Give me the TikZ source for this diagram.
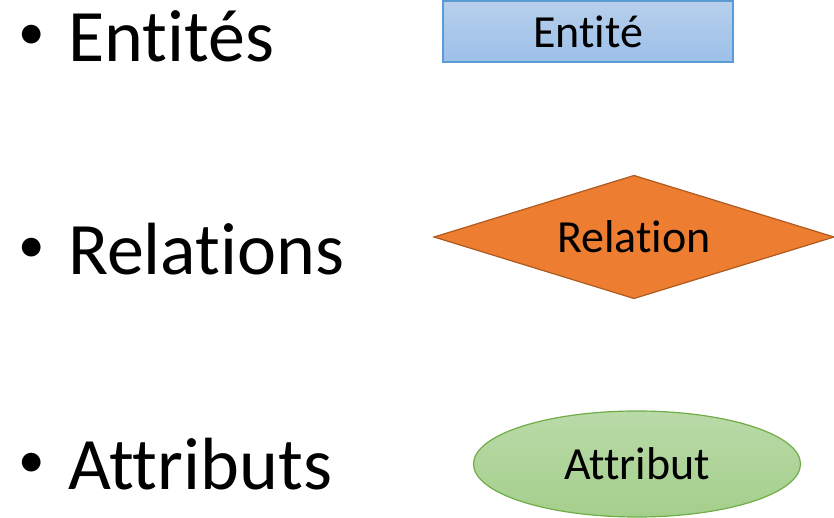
\documentclass[tikz,border=0pt]{standalone}
\usepackage{fontspec}
\setmainfont{Carlito}[Ligatures={NoCommon}]
\usetikzlibrary{shapes.geometric}

\definecolor{entitehaut}{HTML}{B7CFEC}
\definecolor{entitebas}{HTML}{9CC0E9}
\definecolor{entitebord}{HTML}{5B9BD5}
\definecolor{relationfond}{HTML}{ED7D31}
\definecolor{relationbord}{HTML}{AE5A21}
\definecolor{attributhaut}{HTML}{B9DAA8}
\definecolor{attributbas}{HTML}{A5CF8C}
\definecolor{attributbord}{HTML}{70AD47}

\begin{document}
\begin{tikzpicture}[x=1pt,y=1pt,
  item/.style={anchor=base west,inner sep=0pt,font=\fontsize{74}{82}\selectfont},
  puce/.style={anchor=base,inner sep=0pt,font=\fontsize{53}{60}\selectfont},
  forme/.style={line width=1.2pt,inner sep=0pt,outer sep=0pt,font=\fontsize{46}{52}\selectfont}]
\useasboundingbox (0,0) rectangle (834,518);

\node[puce] (p1) at (32,468) {•};
\node[puce] (p2) at (32,255) {•};
\node[puce] (p3) at (32,40) {•};

\node[item] (entites) at (68,456) {Entités};
\node[item] (relations) at (68,243) {Relations};
\node[item] (attributs) at (68,28) {Attributs};

\node[forme,rectangle,draw=entitebord,top color=entitehaut,bottom color=entitebas,
  minimum width=290pt,minimum height=61pt] (entite) at (588,486.5) {Entité};
\node[forme,diamond,draw=relationbord,fill=relationfond,aspect=3.28,
  minimum width=400pt,minimum height=123pt] (relation) at (634,281) {Relation};
\node[forme,ellipse,draw=attributbord,top color=attributhaut,bottom color=attributbas,
  minimum width=327pt,minimum height=106pt] (attribut) at (637,54) {Attribut};
\end{tikzpicture}
\end{document}
